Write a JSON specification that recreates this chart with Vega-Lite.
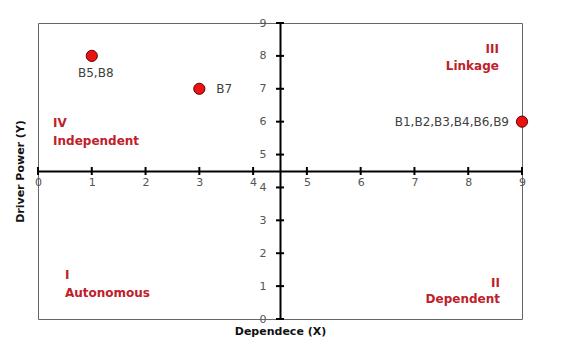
{
  "$schema": "https://vega.github.io/schema/vega-lite/v6.json",
  "width": 484,
  "height": 296,
  "autosize": "none",
  "padding": {"left": 38, "top": 23, "right": 42, "bottom": 32},
  "background": "white",
  "config": {
    "view": {"stroke": "#666666", "strokeWidth": 1},
    "font": "DejaVu Sans",
    "axis": {"labelOverlap": false, "labelFlush": false, "grid": false, "ticks": false}
  },
  "resolve": {"axis": {"x": "independent", "y": "independent"}},
  "datasets": {
    "points": [
      {"x": 1, "y": 8, "label": "B5,B8"},
      {"x": 3, "y": 7, "label": "B7"},
      {"x": 9, "y": 6, "label": "B1,B2,B3,B4,B6,B9"}
    ],
    "ticks": [
      {"v": 0}, {"v": 1}, {"v": 2}, {"v": 3}, {"v": 4},
      {"v": 5}, {"v": 6}, {"v": 7}, {"v": 8}, {"v": 9}
    ],
    "quadrants": [
      {"text": "III", "x": 8.57, "y": 8.21},
      {"text": "Linkage", "x": 8.57, "y": 7.69},
      {"text": "IV", "x": 0.28, "y": 5.96},
      {"text": "Independent", "x": 0.28, "y": 5.41},
      {"text": "I", "x": 0.5, "y": 1.34},
      {"text": "Autonomous", "x": 0.5, "y": 0.79},
      {"text": "II", "x": 8.59, "y": 1.09},
      {"text": "Dependent", "x": 8.59, "y": 0.61}
    ]
  },
  "layer": [
    {
      "data": {"name": "points"},
      "mark": {"type": "point", "shape": "circle", "filled": true, "size": 125, "fill": "#ee1111", "stroke": "#5a0000", "strokeWidth": 1, "opacity": 1},
      "encoding": {
        "x": {
          "field": "x", "type": "quantitative",
          "scale": {"domain": [0, 9], "nice": false, "zero": false},
          "axis": {
            "orient": "bottom", "offset": -148,
            "values": [0, 1, 2, 3, 4, 5, 6, 7, 8, 9], "format": "d",
            "domain": true, "domainColor": "black", "domainWidth": 2,
            "ticks": false, "grid": false,
            "labelColor": "#555555", "labelFont": "DejaVu Sans", "labelFontSize": 11,
            "labelPadding": 5, "labelFlush": false, "labelOverlap": false,
            "title": "Dependece (X)", "titleFont": "DejaVu Sans", "titleFontSize": 11,
            "titleFontWeight": "bold", "titleColor": "#111111",
            "titleY": 160, "titleBaseline": "middle"
          }
        },
        "y": {
          "field": "y", "type": "quantitative",
          "scale": {"domain": [0, 9], "nice": false, "zero": false},
          "axis": {
            "orient": "left", "offset": -242,
            "values": [0, 1, 2, 3, 4, 5, 6, 7, 8, 9], "format": "d",
            "domain": true, "domainColor": "black", "domainWidth": 2,
            "ticks": false, "grid": false,
            "labelColor": "#555555", "labelFont": "DejaVu Sans", "labelFontSize": 11,
            "labelPadding": 14, "labelFlush": false, "labelOverlap": false,
            "title": "Driver Power (Y)", "titleFont": "DejaVu Sans", "titleFontSize": 11,
            "titleFontWeight": "bold", "titleColor": "#111111",
            "titleX": -260, "titleY": 148, "titleAngle": -90,
            "titleBaseline": "middle", "titleAlign": "center"
          }
        }
      }
    },
    {
      "data": {"name": "ticks"},
      "mark": {"type": "tick", "orient": "vertical", "color": "black", "thickness": 2, "size": 8, "opacity": 1},
      "encoding": {
        "x": {"field": "v", "type": "quantitative", "axis": null},
        "y": {"datum": 4.5, "type": "quantitative", "axis": null}
      }
    },
    {
      "data": {"name": "ticks"},
      "mark": {"type": "tick", "orient": "horizontal", "color": "black", "thickness": 2, "size": 8, "opacity": 1},
      "encoding": {
        "y": {"field": "v", "type": "quantitative", "axis": null},
        "x": {"datum": 4.5, "type": "quantitative", "axis": null}
      }
    },
    {
      "data": {"name": "points"},
      "transform": [{"filter": "datum.x == 1"}],
      "mark": {"type": "text", "align": "center", "baseline": "middle", "dx": 4, "dy": 17, "fontSize": 12, "font": "DejaVu Sans", "color": "#404040"},
      "encoding": {
        "x": {"field": "x", "type": "quantitative", "axis": null},
        "y": {"field": "y", "type": "quantitative", "axis": null},
        "text": {"field": "label"}
      }
    },
    {
      "data": {"name": "points"},
      "transform": [{"filter": "datum.x == 3"}],
      "mark": {"type": "text", "align": "left", "baseline": "middle", "dx": 17, "fontSize": 12, "font": "DejaVu Sans", "color": "#404040"},
      "encoding": {
        "x": {"field": "x", "type": "quantitative", "axis": null},
        "y": {"field": "y", "type": "quantitative", "axis": null},
        "text": {"field": "label"}
      }
    },
    {
      "data": {"name": "points"},
      "transform": [{"filter": "datum.x == 9"}],
      "mark": {"type": "text", "align": "right", "baseline": "middle", "dx": -13, "fontSize": 12, "font": "DejaVu Sans", "color": "#404040"},
      "encoding": {
        "x": {"field": "x", "type": "quantitative", "axis": null},
        "y": {"field": "y", "type": "quantitative", "axis": null},
        "text": {"field": "label"}
      }
    },
    {
      "data": {"name": "quadrants"},
      "transform": [{"filter": "datum.x < 4.5"}],
      "mark": {"type": "text", "align": "left", "baseline": "middle", "fontSize": 12, "font": "DejaVu Sans", "fontWeight": "bold", "color": "#c0202a"},
      "encoding": {
        "x": {"field": "x", "type": "quantitative", "axis": null},
        "y": {"field": "y", "type": "quantitative", "axis": null},
        "text": {"field": "text"}
      }
    },
    {
      "data": {"name": "quadrants"},
      "transform": [{"filter": "datum.x > 4.5"}],
      "mark": {"type": "text", "align": "right", "baseline": "middle", "fontSize": 12, "font": "DejaVu Sans", "fontWeight": "bold", "color": "#c0202a"},
      "encoding": {
        "x": {"field": "x", "type": "quantitative", "axis": null},
        "y": {"field": "y", "type": "quantitative", "axis": null},
        "text": {"field": "text"}
      }
    }
  ]
}
